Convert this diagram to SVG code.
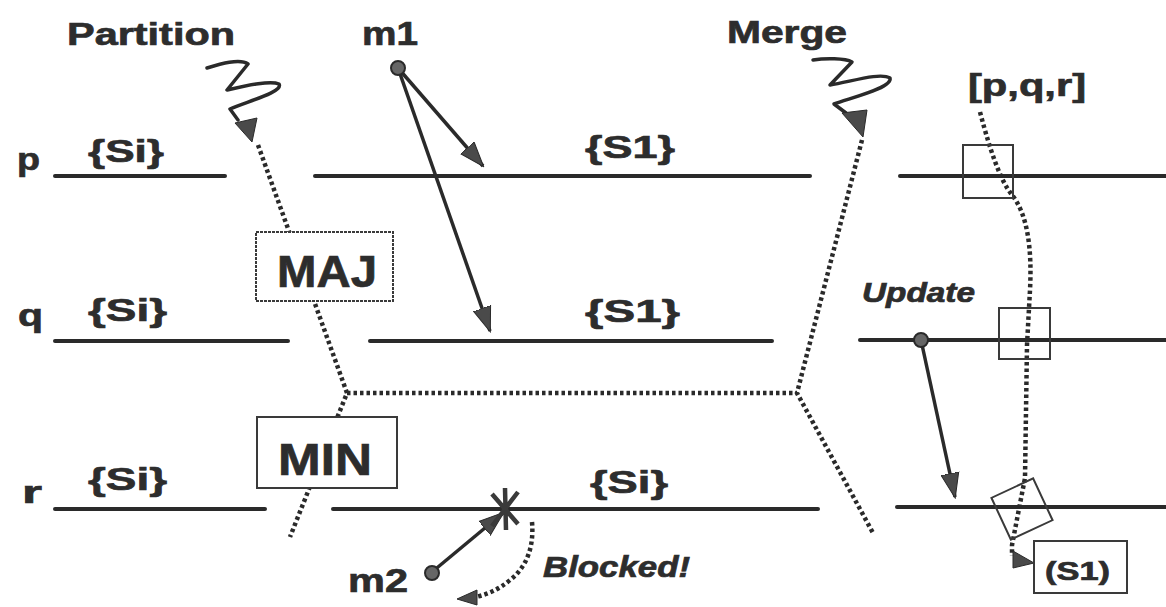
<svg xmlns="http://www.w3.org/2000/svg" width="1166" height="607" viewBox="0 0 1166 607">
<style>
text{font-family:"Liberation Sans",Arial,sans-serif;font-weight:bold;fill:#2d2d2d;stroke:#2d2d2d;stroke-width:0.7}
.it{font-style:italic}
.ln{stroke:#2a2a2a;stroke-width:4;fill:none;stroke-linecap:round}
.dot{stroke:#2a2a2a;stroke-width:4.5;fill:none;stroke-dasharray:3.5 3}
.sq{stroke:#2a2a2a;stroke-width:3.5;fill:none;stroke-linejoin:round;stroke-linecap:round}
.box{fill:#fff;stroke:#3a3a3a;stroke-width:2}
.tbox{fill:none;stroke:#3a3a3a;stroke-width:2}
.msg{stroke:#2a2a2a;stroke-width:3.5;fill:none}
.ah{fill:#4a4a4a;stroke:#2a2a2a;stroke-width:1}
.pt{fill:#666;stroke:#2a2a2a;stroke-width:2}
</style>
<defs>
<marker id="arr" markerUnits="userSpaceOnUse" markerWidth="26" markerHeight="20" viewBox="0 0 26 20" refX="24" refY="10" orient="auto">
<path d="M0,1 L25,10 L0,19 Z" fill="#4a4a4a" stroke="#2a2a2a" stroke-width="1"/>
</marker>
</defs>
<rect width="1166" height="607" fill="#fff"/>

<g id="timelines">
<line class="ln" x1="55" y1="176" x2="225" y2="176"/>
<line class="ln" x1="315" y1="176" x2="810" y2="176"/>
<line class="ln" x1="900" y1="176" x2="1166" y2="176"/>
<line class="ln" x1="55" y1="341" x2="288" y2="341"/>
<line class="ln" x1="370" y1="341" x2="772" y2="341"/>
<line class="ln" x1="860" y1="340" x2="1166" y2="340"/>
<line class="ln" x1="55" y1="509" x2="265" y2="509"/>
<line class="ln" x1="333" y1="509" x2="818" y2="509"/>
<line class="ln" x1="897" y1="507" x2="1166" y2="507"/>
</g>

<g id="labels">
<text x="67" y="45" font-size="31" textLength="168" lengthAdjust="spacingAndGlyphs">Partition</text>
<text x="362" y="45" font-size="34" textLength="56" lengthAdjust="spacingAndGlyphs">m1</text>
<text x="727" y="43" font-size="31" textLength="120" lengthAdjust="spacingAndGlyphs">Merge</text>
<text x="968" y="96" font-size="32" textLength="118" lengthAdjust="spacingAndGlyphs">[p,q,r]</text>
<text x="17" y="170" font-size="32" textLength="23" lengthAdjust="spacingAndGlyphs">p</text>
<text x="88" y="162" font-size="32" textLength="76" lengthAdjust="spacingAndGlyphs">{Si}</text>
<text x="585" y="158" font-size="32" textLength="90" lengthAdjust="spacingAndGlyphs">{S1}</text>
<text x="18" y="326" font-size="32" textLength="25" lengthAdjust="spacingAndGlyphs">q</text>
<text x="88" y="321" font-size="32" textLength="79" lengthAdjust="spacingAndGlyphs">{Si}</text>
<text x="585" y="322" font-size="32" textLength="95" lengthAdjust="spacingAndGlyphs">{S1}</text>
<text x="22" y="503" font-size="32" textLength="20" lengthAdjust="spacingAndGlyphs">r</text>
<text x="88" y="490" font-size="32" textLength="79" lengthAdjust="spacingAndGlyphs">{Si}</text>
<text x="590" y="493" font-size="32" textLength="78" lengthAdjust="spacingAndGlyphs">{Si}</text>
<text x="348" y="592" font-size="34" textLength="60" lengthAdjust="spacingAndGlyphs">m2</text>
<text class="it" x="543" y="577" font-size="29" textLength="147" lengthAdjust="spacingAndGlyphs">Blocked!</text>
<text class="it" x="862" y="302" font-size="27" textLength="113" lengthAdjust="spacingAndGlyphs">Update</text>
</g>

<g id="connectors">
<polyline class="dot" points="258,145 347,393 290,537"/>
<polyline class="dot" points="862,140 797,393 873,533"/>
<line class="dot" x1="347" y1="393" x2="797" y2="393"/>
<path class="sq" d="M207,68 C220,64 240,58 248,64 L227,90 C245,86 270,80 279,84 C284,92 245,102 230,109 L238,120"/>
<polygon class="ah" points="235,123 257,118 252,142"/>
<path class="sq" d="M813,60 C825,58 845,58 852,62 L830,85 C850,82 880,72 890,78 C893,88 850,98 834,104 L846,113"/>
<polygon class="ah" points="842,113 867,110 863,137"/>
<line class="msg" x1="398" y1="68" x2="483" y2="166" marker-end="url(#arr)"/>
<line class="msg" x1="398" y1="68" x2="490" y2="331" marker-end="url(#arr)"/>
<line class="msg" x1="921" y1="340" x2="955" y2="497" marker-end="url(#arr)"/>
<line class="msg" x1="432" y1="572" x2="503" y2="513" marker-end="url(#arr)"/>
<path d="M492,494 L518,524 M518,492 L492,526 M505,488 L506,530" stroke="#3a3a3a" stroke-width="4.5" fill="none"/>
<path class="dot" d="M532,522 C534,545 528,566 510,580 C498,590 488,594 476,597"/>
<polygon class="ah" points="477,590 457,599 477,605"/>
<path class="dot" d="M980,112 C990,150 1000,180 1012,195 C1028,215 1032,250 1030,290 L1027,345 L1025,478 L1012,545 L1012,556"/>
<polygon class="ah" points="1013,551 1034,563 1013,568"/>
<circle class="pt" cx="398" cy="68" r="7"/>
<circle class="pt" cx="921" cy="340" r="7"/>
<circle class="pt" cx="432" cy="573" r="7"/>
<rect class="tbox" x="963" y="145" width="50" height="53"/>
<rect class="tbox" x="999" y="308" width="51" height="51"/>
<rect class="tbox" x="-23" y="-23" width="46" height="46" transform="translate(1022,509) rotate(-25)"/>
</g>

<g id="node-maj">
<rect class="box" x="256" y="232" width="137" height="69" stroke-dasharray="3 1"/>
<text x="277" y="287" font-size="44" textLength="100" lengthAdjust="spacingAndGlyphs">MAJ</text>
</g>
<g id="node-min">
<rect class="box" x="257" y="417" width="140" height="71"/>
<text x="278" y="475" font-size="44" textLength="94" lengthAdjust="spacingAndGlyphs">MIN</text>
</g>
<g id="node-s1">
<rect class="box" x="1034" y="541" width="93" height="52"/>
<text x="1045" y="580" font-size="25" textLength="65" lengthAdjust="spacingAndGlyphs">(S1)</text>
</g>
</svg>
